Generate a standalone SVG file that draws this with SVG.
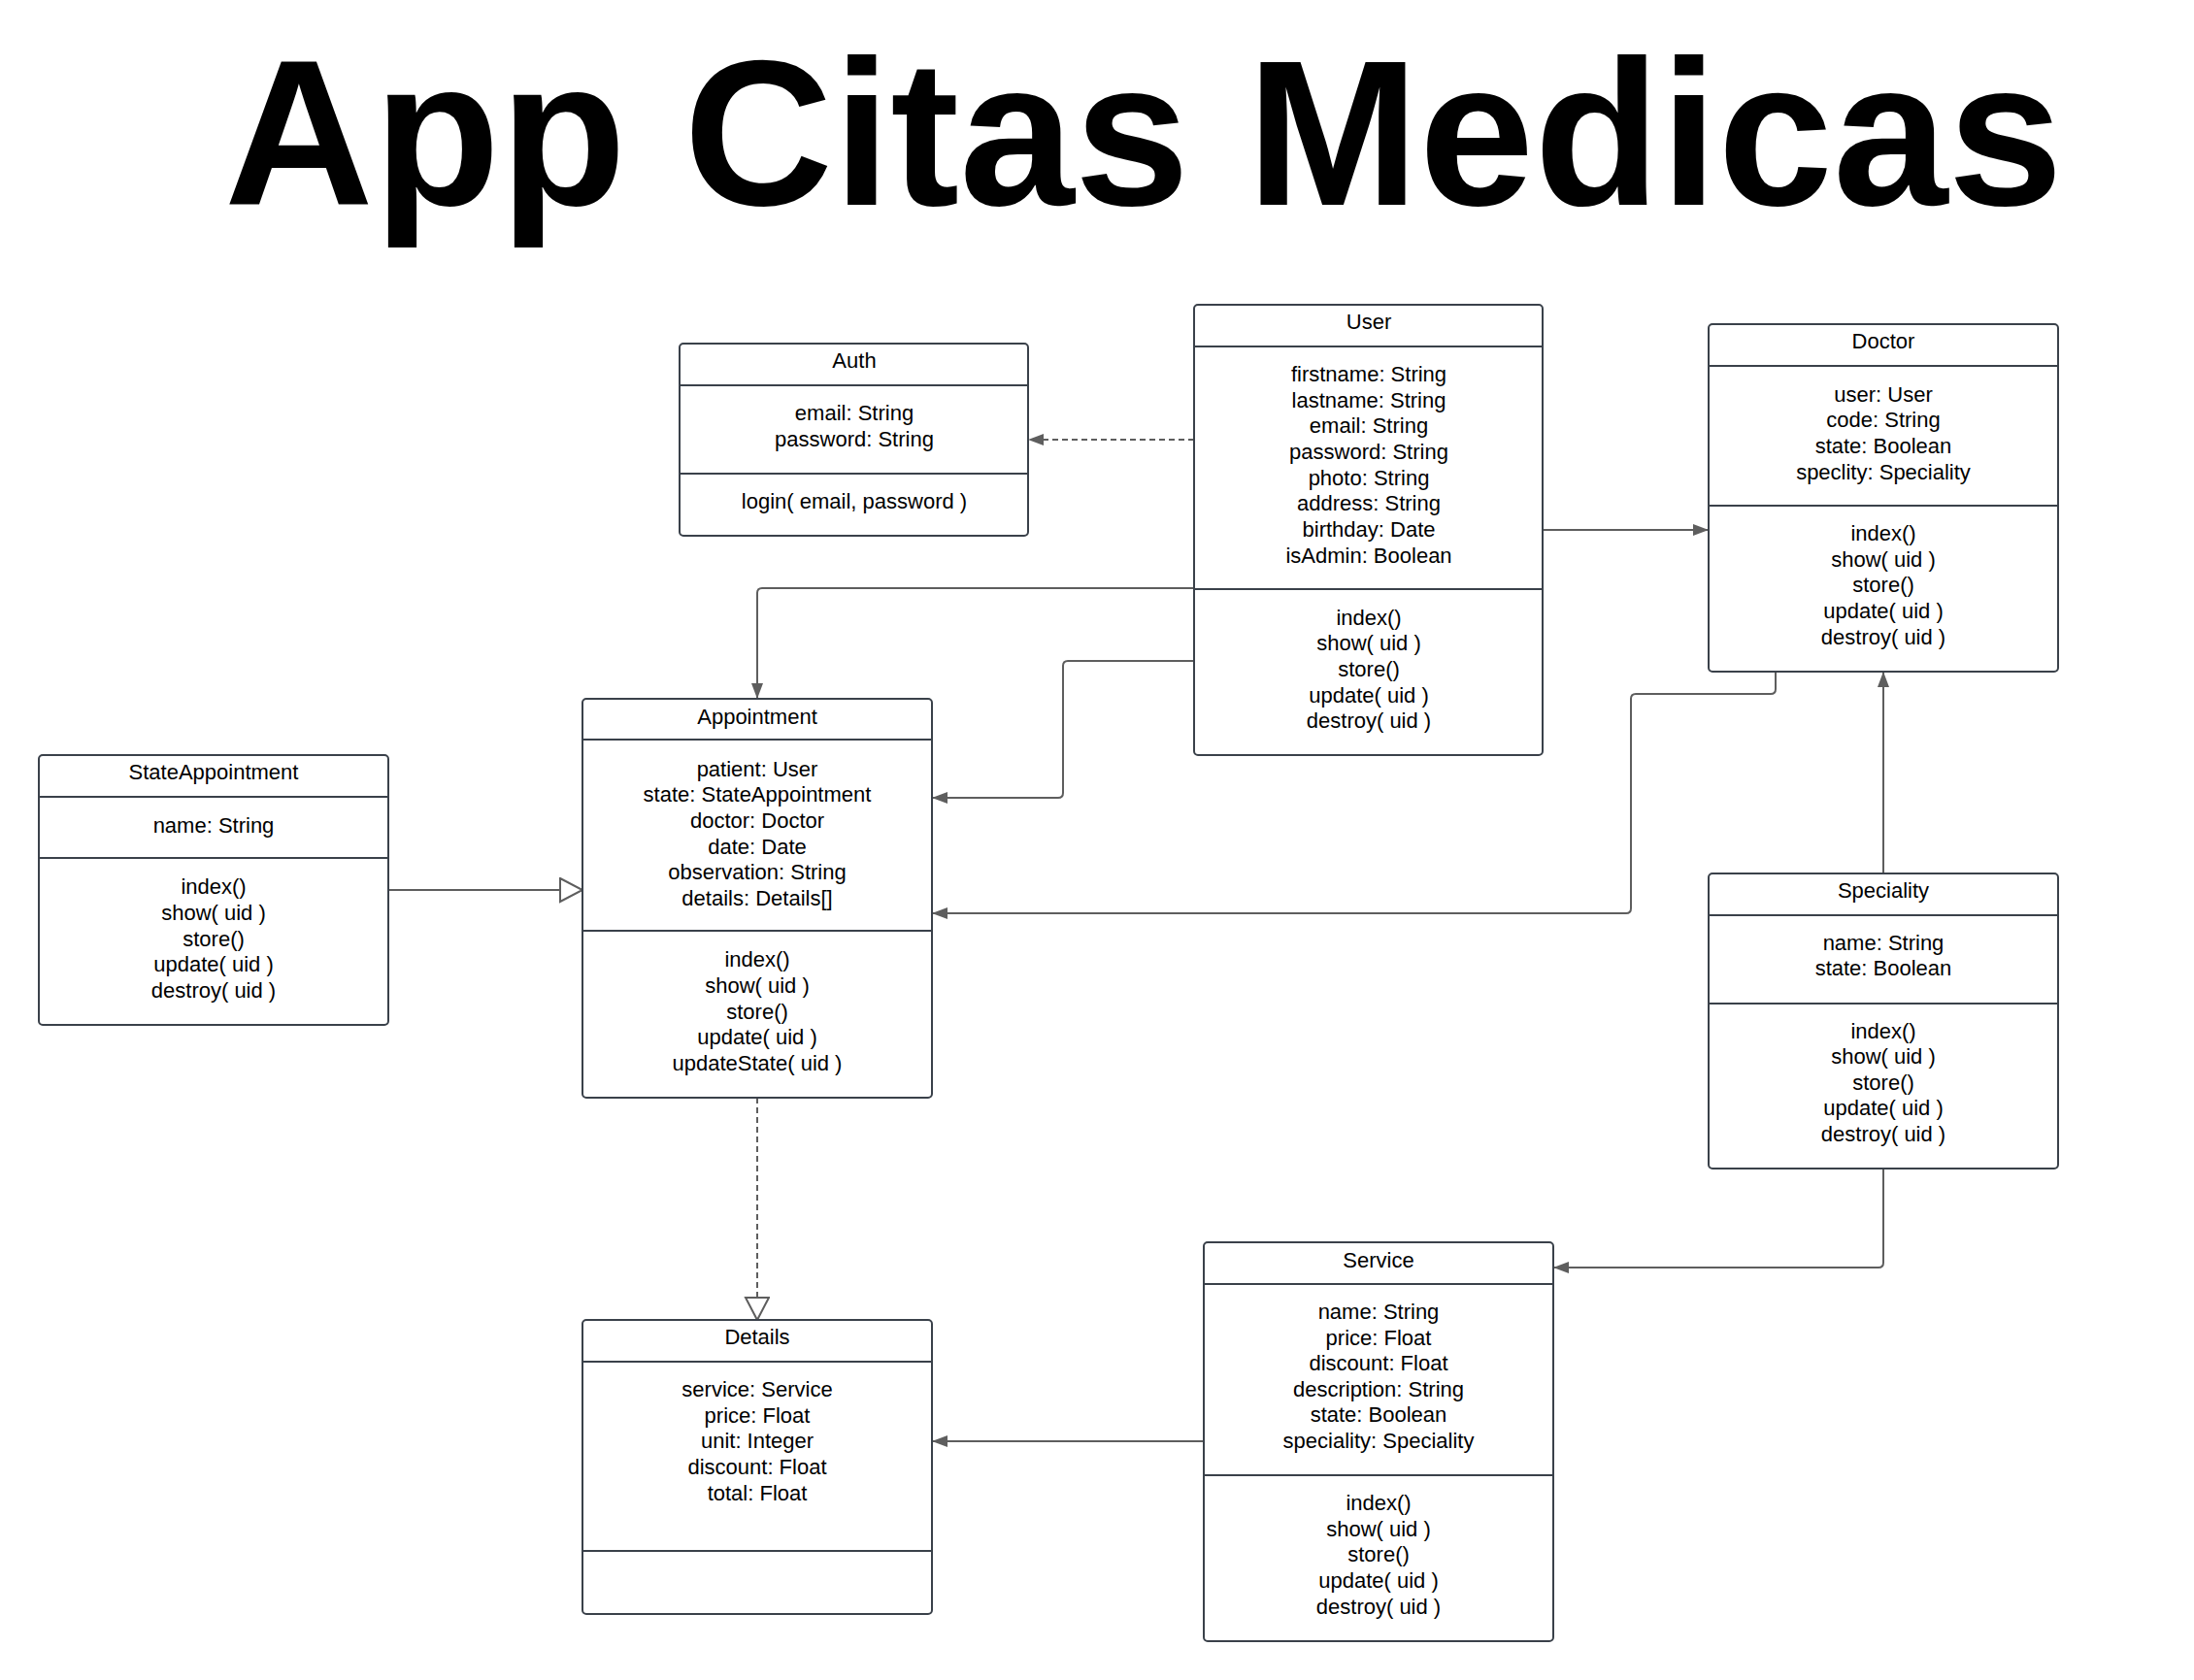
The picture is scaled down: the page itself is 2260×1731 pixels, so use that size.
<svg xmlns="http://www.w3.org/2000/svg" width="2260" height="1731" viewBox="0 0 2260 1731">
<style>
.box{fill:#fff;stroke:#3a414a;stroke-width:2}
.div{stroke:#3a414a;stroke-width:2}
.t{font-family:"Liberation Sans",Arial,sans-serif;font-size:22px;fill:#000;text-anchor:middle}
.title{font-family:"Liberation Sans",Arial,sans-serif;font-size:213px;font-weight:bold;fill:#000;text-anchor:middle}
.c{fill:none;stroke:#5e5e5e;stroke-width:2}
.dash{stroke-dasharray:6 4}
</style>
<defs>
<marker id="arr" markerUnits="userSpaceOnUse" markerWidth="18" markerHeight="14" refX="16" refY="6" orient="auto">
<path d="M0,0 L16,6 L0,12 z" fill="#5e5e5e" stroke="none"/>
</marker>
<marker id="tri" markerUnits="userSpaceOnUse" markerWidth="28" markerHeight="28" refX="24" refY="13" orient="auto">
<path d="M1,1 L24,13 L1,25 z" fill="#fff" stroke="#5e5e5e" stroke-width="2" stroke-dasharray="none"/>
</marker>
</defs>
<rect width="2260" height="1731" fill="#fff"/>
<text class="title" x="1178" y="211">App Citas Medicas</text>

<g id="connectors">
<path class="c dash" d="M1230,453 H1059" marker-end="url(#arr)"/>
<path class="c" d="M1590,546 H1760" marker-end="url(#arr)"/>
<path class="c" d="M1230,606 H785 Q780,606 780,611 V720" marker-end="url(#arr)"/>
<path class="c" d="M1230,681 H1100 Q1095,681 1095,686 V817 Q1095,822 1090,822 H960" marker-end="url(#arr)"/>
<path class="c" d="M1829,692 V710 Q1829,715 1824,715 H1685 Q1680,715 1680,720 V936 Q1680,941 1675,941 H960" marker-end="url(#arr)"/>
<path class="c" d="M1940,900 V692" marker-end="url(#arr)"/>
<path class="c" d="M1940,1204 V1301 Q1940,1306 1935,1306 H1600" marker-end="url(#arr)"/>
<path class="c" d="M1240,1485 H960" marker-end="url(#arr)"/>
<path class="c" d="M400,917 H600" marker-end="url(#tri)"/>
<path class="c dash" d="M780,1131 V1360" marker-end="url(#tri)"/>
</g>

<g id="auth">
<rect class="box" x="700" y="354" width="359" height="198" rx="4"/>
<line class="div" x1="700" y1="397" x2="1059" y2="397"/>
<line class="div" x1="700" y1="488" x2="1059" y2="488"/>
<text class="t" x="880" y="379">Auth</text>
<text class="t" x="880" y="433">email: String</text>
<text class="t" x="880" y="460">password: String</text>
<text class="t" x="880" y="524">login( email, password )</text>
</g>

<g id="user">
<rect class="box" x="1230" y="314" width="359" height="464" rx="4"/>
<line class="div" x1="1230" y1="357" x2="1589" y2="357"/>
<line class="div" x1="1230" y1="607" x2="1589" y2="607"/>
<text class="t" x="1410" y="339">User</text>
<text class="t" x="1410" y="393">firstname: String</text>
<text class="t" x="1410" y="420">lastname: String</text>
<text class="t" x="1410" y="446">email: String</text>
<text class="t" x="1410" y="473">password: String</text>
<text class="t" x="1410" y="500">photo: String</text>
<text class="t" x="1410" y="526">address: String</text>
<text class="t" x="1410" y="553">birthday: Date</text>
<text class="t" x="1410" y="580">isAdmin: Boolean</text>
<text class="t" x="1410" y="644">index()</text>
<text class="t" x="1410" y="670">show( uid )</text>
<text class="t" x="1410" y="697">store()</text>
<text class="t" x="1410" y="724">update( uid )</text>
<text class="t" x="1410" y="750">destroy( uid )</text>
</g>

<g id="doctor">
<rect class="box" x="1760" y="334" width="360" height="358" rx="4"/>
<line class="div" x1="1760" y1="377" x2="2120" y2="377"/>
<line class="div" x1="1760" y1="521" x2="2120" y2="521"/>
<text class="t" x="1940" y="359">Doctor</text>
<text class="t" x="1940" y="414">user: User</text>
<text class="t" x="1940" y="440">code: String</text>
<text class="t" x="1940" y="467">state: Boolean</text>
<text class="t" x="1940" y="494">speclity: Speciality</text>
<text class="t" x="1940" y="557">index()</text>
<text class="t" x="1940" y="584">show( uid )</text>
<text class="t" x="1940" y="610">store()</text>
<text class="t" x="1940" y="637">update( uid )</text>
<text class="t" x="1940" y="664">destroy( uid )</text>
</g>

<g id="appointment">
<rect class="box" x="600" y="720" width="360" height="411" rx="4"/>
<line class="div" x1="600" y1="762" x2="960" y2="762"/>
<line class="div" x1="600" y1="959" x2="960" y2="959"/>
<text class="t" x="780" y="746">Appointment</text>
<text class="t" x="780" y="800">patient: User</text>
<text class="t" x="780" y="826">state: StateAppointment</text>
<text class="t" x="780" y="853">doctor: Doctor</text>
<text class="t" x="780" y="880">date: Date</text>
<text class="t" x="780" y="906">observation: String</text>
<text class="t" x="780" y="933">details: Details[]</text>
<text class="t" x="780" y="996">index()</text>
<text class="t" x="780" y="1023">show( uid )</text>
<text class="t" x="780" y="1050">store()</text>
<text class="t" x="780" y="1076">update( uid )</text>
<text class="t" x="780" y="1103">updateState( uid )</text>
</g>

<g id="stateappointment">
<rect class="box" x="40" y="778" width="360" height="278" rx="4"/>
<line class="div" x1="40" y1="821" x2="400" y2="821"/>
<line class="div" x1="40" y1="884" x2="400" y2="884"/>
<text class="t" x="220" y="803">StateAppointment</text>
<text class="t" x="220" y="858">name: String</text>
<text class="t" x="220" y="921">index()</text>
<text class="t" x="220" y="948">show( uid )</text>
<text class="t" x="220" y="975">store()</text>
<text class="t" x="220" y="1001">update( uid )</text>
<text class="t" x="220" y="1028">destroy( uid )</text>
</g>

<g id="speciality">
<rect class="box" x="1760" y="900" width="360" height="304" rx="4"/>
<line class="div" x1="1760" y1="943" x2="2120" y2="943"/>
<line class="div" x1="1760" y1="1034" x2="2120" y2="1034"/>
<text class="t" x="1940" y="925">Speciality</text>
<text class="t" x="1940" y="979">name: String</text>
<text class="t" x="1940" y="1005">state: Boolean</text>
<text class="t" x="1940" y="1070">index()</text>
<text class="t" x="1940" y="1096">show( uid )</text>
<text class="t" x="1940" y="1123">store()</text>
<text class="t" x="1940" y="1149">update( uid )</text>
<text class="t" x="1940" y="1176">destroy( uid )</text>
</g>

<g id="service">
<rect class="box" x="1240" y="1280" width="360" height="411" rx="4"/>
<line class="div" x1="1240" y1="1323" x2="1600" y2="1323"/>
<line class="div" x1="1240" y1="1520" x2="1600" y2="1520"/>
<text class="t" x="1420" y="1306">Service</text>
<text class="t" x="1420" y="1359">name: String</text>
<text class="t" x="1420" y="1386">price: Float</text>
<text class="t" x="1420" y="1412">discount: Float</text>
<text class="t" x="1420" y="1439">description: String</text>
<text class="t" x="1420" y="1465">state: Boolean</text>
<text class="t" x="1420" y="1492">speciality: Speciality</text>
<text class="t" x="1420" y="1556">index()</text>
<text class="t" x="1420" y="1583">show( uid )</text>
<text class="t" x="1420" y="1609">store()</text>
<text class="t" x="1420" y="1636">update( uid )</text>
<text class="t" x="1420" y="1663">destroy( uid )</text>
</g>

<g id="details">
<rect class="box" x="600" y="1360" width="360" height="303" rx="4"/>
<line class="div" x1="600" y1="1403" x2="960" y2="1403"/>
<line class="div" x1="600" y1="1598" x2="960" y2="1598"/>
<text class="t" x="780" y="1385">Details</text>
<text class="t" x="780" y="1439">service: Service</text>
<text class="t" x="780" y="1466">price: Float</text>
<text class="t" x="780" y="1492">unit: Integer</text>
<text class="t" x="780" y="1519">discount: Float</text>
<text class="t" x="780" y="1546">total: Float</text>
</g>
</svg>
